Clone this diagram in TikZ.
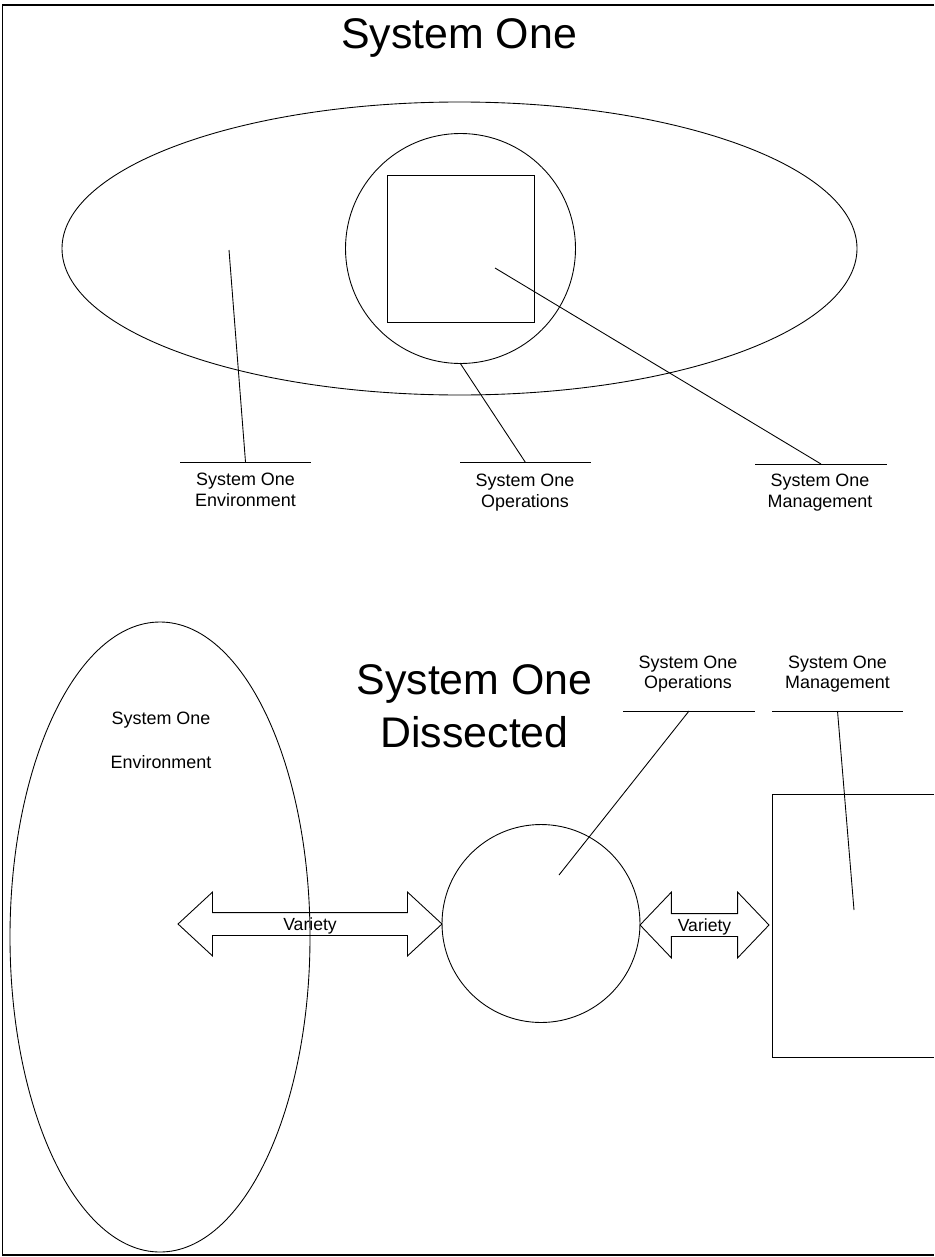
\documentclass[tikz,border=0pt]{standalone}
\usepackage{fontspec}
\setmainfont{Liberation Sans}
\usetikzlibrary{shapes,arrows}

\begin{document}
\begin{tikzpicture}[x=0.02cm,y=-0.02cm,line width=0.5pt,
    bigtitle/.style={font=\fontsize{24.4}{30}\selectfont,align=center,inner sep=0},
    lbl/.style={font=\fontsize{10.2}{11.9}\selectfont,align=center,inner sep=0},
    varrow/.style={draw,double arrow,font=\fontsize{10}{12}\selectfont,inner xsep=0,inner ysep=0,text height=0.34cm,text depth=0.10cm}]
    \useasboundingbox (0,0) rectangle (934,1257);
    % Draw frame
    \draw[line width=1pt] (934,5) -- (2.5,5) -- (2.5,1255) -- (934,1255);

    % System One
    \node[bigtitle,anchor=base] (ttlone) at (459,49) {System One};
    \draw (459.5,248.5) ellipse [x radius=397.5,y radius=146.5];
    \draw (460.5,248.5) circle [radius=115];
    \draw (387,175) rectangle (534,322);
    % pointer ends
    \coordinate (envpt) at (229,250);
    \coordinate (opspt) at (460,363);
    \coordinate (mgtpt) at (495,268);
    % label bars
    \draw (180,462) -- coordinate (envbar) (311,462);
    \draw (460,462.5) -- coordinate (opsbar) (591,462.5);
    \draw (755,464) -- coordinate (mgtbar) (887,464);
    \draw (envpt) -- (envbar);
    \draw (opspt) -- (opsbar);
    \draw (mgtpt) -- (mgtbar);
    \node[lbl,anchor=north] (envlbl) at (245.5,473) {System One\\Environment};
    \node[lbl,anchor=north] (opslbl) at (525,474) {System One\\Operations};
    \node[lbl,anchor=north] (mgtlbl) at (820,474) {System One\\Management};

    % System One Dissected
    \node[bigtitle,anchor=north] (ttltwo) at (474.5,664) {System One\\Dissected};
    \draw (160,937) ellipse [x radius=150,y radius=315];
    \node[lbl,anchor=base] (envtxta) at (161,724) {System One};
    \node[lbl,anchor=base] (envtxtb) at (161,768) {Environment};
    \node[circle,draw,minimum size=3.96cm,inner sep=0] (opscirc) at (541,923.5) {};
    \draw (934,794) -- (772,794) -- (772,1057) -- (934,1057);
    % pointer ends
    \coordinate (opsin) at (559,875);
    \coordinate (mgtin) at (854,910);
    % label bars
    \draw (623,711) -- coordinate (opsbartwo) (755,711);
    \draw (772,711) -- coordinate (mgtbartwo) (903,711);
    \draw (opsbartwo) -- (opsin);
    \draw (mgtbartwo) -- (mgtin);
    \node[lbl,anchor=north,font=\fontsize{10.2}{11.3}\selectfont] (opslbltwo) at (688,656) {System One\\Operations};
    \node[lbl,anchor=north,font=\fontsize{10.2}{11.3}\selectfont] (mgtlbltwo) at (837.5,656) {System One\\Management};

    % variety arrows
    \node[varrow,minimum height=5.28cm,double arrow head extend=0.41cm,double arrow tip angle=85.6] (vara) at (310,924) {Variety};
    \node[varrow,minimum height=2.58cm,double arrow head extend=0.43cm,double arrow tip angle=92.7] (varb) at (704.5,925) {Variety};
\end{tikzpicture}
\end{document}
